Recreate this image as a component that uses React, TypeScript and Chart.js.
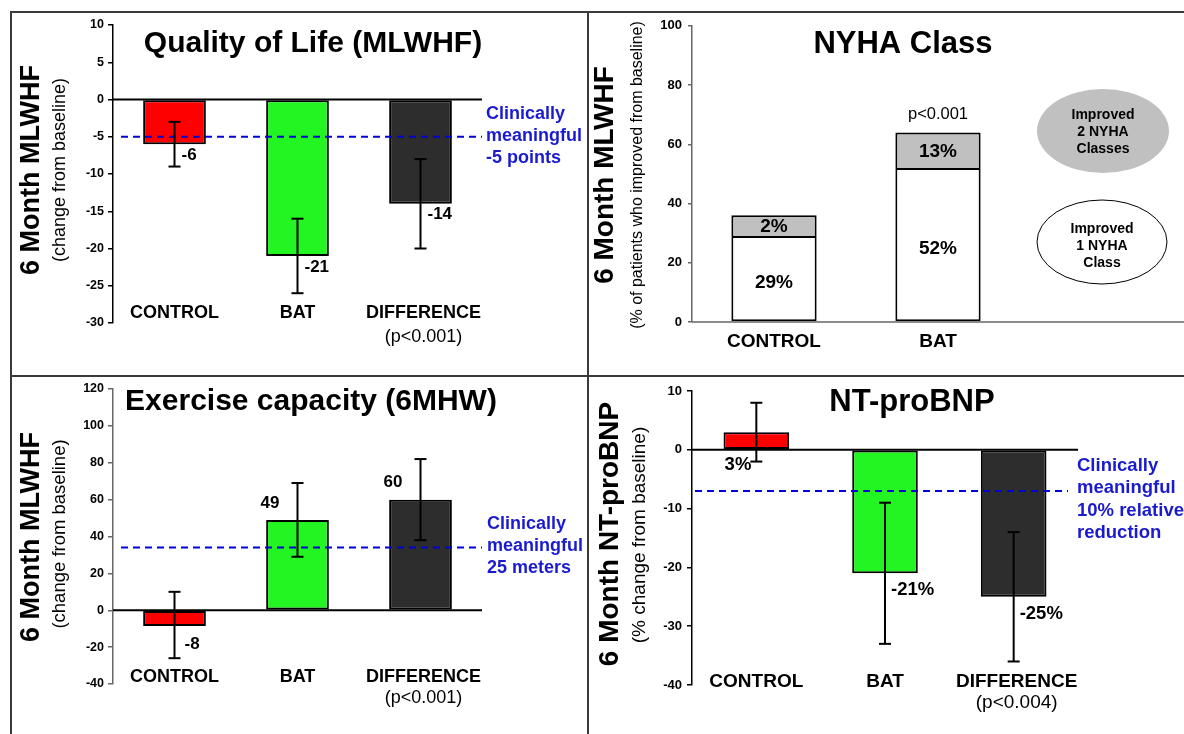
import React, { useEffect, useRef } from 'react';
import { Chart, registerables } from 'chart.js';

Chart.register(...registerables);

const FONT = 'Arial, "Liberation Sans", Helvetica, sans-serif';

// ---------- Quality of Life (MLWHF)
const qolCategories = ['CONTROL', 'BAT', 'DIFFERENCE'];
const qolValues = [-6, -21, -14];
const qolErrLow = [-9, -26, -20];
const qolErrHigh = [-3, -16, -8];
const qolLabels = ['-6', '-21', '-14'];
const qolThreshold = -5;
const qolTicks = { min: -30, max: 10, step: 5 };
const qolNote = ['Clinically', 'meaningful', '-5 points'];
const qolP = '(p<0.001)';

// ---------- NYHA Class
const nyhaCategories = ['CONTROL', 'BAT', ''];
const nyhaOneClass = [29, 52, null];
const nyhaTwoClass = [7, 12, null];
const nyhaOneLabels = ['29%', '52%'];
const nyhaTwoLabels = ['2%', '13%'];
const nyhaTicks = { min: 0, max: 100, step: 20 };
const nyhaP = 'p<0.001';
const nyhaLegendTwo = ['Improved', '2 NYHA', 'Classes'];
const nyhaLegendOne = ['Improved', '1 NYHA', 'Class'];

// ---------- Exercise capacity (6MHW)
const exCategories = ['CONTROL', 'BAT', 'DIFFERENCE'];
const exValues = [-8.5, 49, 60];
const exErrLow = [-26, 29, 38];
const exErrHigh = [10, 69, 82];
const exLabels = ['-8', '49', '60'];
const exThreshold = 34;
const exTicks = { min: -40, max: 120, step: 20 };
const exNote = ['Clinically', 'meaningful', '25 meters'];
const exP = '(p<0.001)';

// ---------- NT-proBNP
const bnpCategories = ['CONTROL', 'BAT', 'DIFFERENCE'];
const bnpValues = [3, -21, -25];
const bnpErrLow = [-2, -33, -36];
const bnpErrHigh = [8, -9, -14];
const bnpLabels = ['3%', '-21%', '-25%'];
const bnpThreshold = -7;
const bnpTicks = { min: -40, max: 10, step: 10 };
const bnpNote = ['Clinically', 'meaningful', '10% relative', 'reduction'];
const bnpP = '(p<0.004)';

const barColors = ['#ff0000', '#22f522', '#2d2d2d'];
const BLUE_TEXT = '#1a1ad0';
const BLUE_LINE = '#0000d8';

type Box = { x: number; y: number; w: number; h: number };
const BOX1: Box = { x: 11, y: 12, w: 577, h: 364 };
const BOX2: Box = { x: 589, y: 12, w: 595, h: 364 };
const BOX3: Box = { x: 11, y: 377, w: 577, h: 357 };
const BOX4: Box = { x: 589, y: 377, w: 595, h: 357 };

function text(ctx: any, s: string, x: number, y: number, size: number, bold: boolean, color = '#000', align = 'center') {
  ctx.save();
  ctx.font = `${bold ? 'bold ' : ''}${size}px ${FONT}`;
  ctx.fillStyle = color;
  ctx.textAlign = align;
  ctx.textBaseline = 'middle';
  ctx.fillText(s, x, y);
  ctx.restore();
}

function vtext(ctx: any, s: string, x: number, y: number, size: number, bold: boolean) {
  ctx.save();
  ctx.translate(x, y);
  ctx.rotate(-Math.PI / 2);
  ctx.font = `${bold ? 'bold ' : ''}${size}px ${FONT}`;
  ctx.fillStyle = '#000';
  ctx.textAlign = 'center';
  ctx.textBaseline = 'middle';
  ctx.fillText(s, 0, 0);
  ctx.restore();
}

function line(ctx: any, x1: number, y1: number, x2: number, y2: number, color: string, width: number, dash: number[] = []) {
  ctx.save();
  ctx.strokeStyle = color;
  ctx.lineWidth = width;
  ctx.setLineDash(dash);
  ctx.beginPath();
  ctx.moveTo(x1, y1);
  ctx.lineTo(x2, y2);
  ctx.stroke();
  ctx.restore();
}

function yAxis(t: { min: number; max: number; step: number }, axisColor: string, leftW: number, tickLen: number, pad: number, size: number) {
  return {
    min: t.min,
    max: t.max,
    ticks: {
      stepSize: t.step,
      color: '#000',
      padding: pad,
      font: { family: FONT, weight: 'bold', size },
    },
    grid: { drawOnChartArea: false, drawTicks: true, tickLength: tickLen, color: axisColor, lineWidth: 1.5 },
    border: { display: true, color: axisColor, width: 1.5 },
    afterFit: (s: any) => {
      s.width = leftW;
    },
  };
}

function buildBarPanel(p: any) {
  const b: Box = p.box;
  const decor = {
    id: 'decor',
    afterDatasetsDraw(chart: any) {
      const ctx = chart.ctx;
      const ys = chart.scales.y;
      const ca = chart.chartArea;
      const meta = chart.getDatasetMeta(0);
      ctx.save();
      ctx.translate(-b.x, -b.y);
      const Y = (v: number) => ys.getPixelForValue(v) + b.y;
      const L = ca.left + b.x;
      const R = ca.right + b.x;
      line(ctx, L, Y(0), R, Y(0), '#000', 2);
      line(ctx, p.dashFrom, Y(p.threshold), p.dashTo, Y(p.threshold), BLUE_LINE, 2, [7, 5]);
      meta.data.forEach((el: any, i: number) => {
        const x = el.x + b.x;
        const y1 = Y(p.errLow[i]);
        const y2 = Y(p.errHigh[i]);
        line(ctx, x, y1, x, y2, '#000', 2);
        line(ctx, x - 6, y1, x + 6, y1, '#000', 2);
        line(ctx, x - 6, y2, x + 6, y2, '#000', 2);
        const pos = p.place(p.values[i], x, Y);
        text(ctx, p.labels[i], pos.x, pos.y, p.valSize, true, '#000', pos.align);
        text(ctx, p.categories[i], x + (i === 2 ? 3 : 0), p.catY, p.catSize, true);
        if (i === 2) text(ctx, p.pText, x + 3, p.pY, p.catSize, false);
      });
      text(ctx, p.title, p.titleX, p.titleY, p.titleSize, true);
      vtext(ctx, p.yTitle, p.yTitleX, p.yTitleY, p.yTitleSize, true);
      vtext(ctx, p.ySub, p.ySubX, p.ySubY, p.ySubSize, false);
      p.note.forEach((s: string, k: number) => {
        text(ctx, s, p.noteX, p.noteY + k * p.noteGap, p.noteSize, true, BLUE_TEXT, 'left');
      });
      ctx.restore();
    },
  };
  return {
    type: 'bar',
    data: {
      labels: p.categories,
      datasets: [
        {
          data: p.values,
          backgroundColor: barColors,
          borderColor: '#000',
          borderWidth: 2,
          borderSkipped: false,
          barPercentage: p.barPct,
          categoryPercentage: 1,
        },
      ],
    },
    options: {
      responsive: false,
      animation: false,
      devicePixelRatio: 1,
      layout: { padding: { left: 0, right: p.padRight, top: p.padTop, bottom: p.padBottom } },
      plugins: { legend: { display: false }, tooltip: { enabled: false } },
      scales: {
        x: { display: false },
        y: yAxis(p.ticks, p.axisColor, p.leftW, p.tickLen, p.tickPad, p.tickSize),
      },
    },
    plugins: [decor],
  };
}

function buildNyha() {
  const b = BOX2;
  const decor = {
    id: 'decor',
    afterDatasetsDraw(chart: any) {
      const ctx = chart.ctx;
      const ys = chart.scales.y;
      const ca = chart.chartArea;
      const meta = chart.getDatasetMeta(0);
      ctx.save();
      ctx.translate(-b.x, -b.y);
      const Y = (v: number) => ys.getPixelForValue(v) + b.y;
      line(ctx, ca.left + b.x, Y(0), b.x + b.w, Y(0), '#666', 1.5);
      meta.data.forEach((el: any, i: number) => {
        if (!nyhaCategories[i]) return;
        const x = el.x + b.x;
        const one = nyhaOneClass[i] as number;
        const two = nyhaTwoClass[i] as number;
        text(ctx, nyhaOneLabels[i], x, (Y(0) + Y(one)) / 2 + 4, 19, true);
        text(ctx, nyhaTwoLabels[i], x, (Y(one) + Y(one + two)) / 2 + 1.5, 19, true);
        text(ctx, nyhaCategories[i], x, 342, 19, true);
        if (i === 1) text(ctx, nyhaP, x, Y(one + two) - 18, 16.5, false);
      });
      text(ctx, 'NYHA Class', 903, 44, 31, true);
      vtext(ctx, '6 Month MLWHF', 605, 175, 28, true);
      vtext(ctx, '(% of patients who improved from baseline)', 638, 175, 16, false);
      // legend ellipses
      ctx.save();
      ctx.fillStyle = '#c0c0c0';
      ctx.beginPath();
      ctx.ellipse(1103, 131, 66, 42, 0, 0, Math.PI * 2);
      ctx.fill();
      ctx.fillStyle = '#fff';
      ctx.strokeStyle = '#000';
      ctx.lineWidth = 1;
      ctx.beginPath();
      ctx.ellipse(1102, 242, 65, 42, 0, 0, Math.PI * 2);
      ctx.fill();
      ctx.stroke();
      ctx.restore();
      nyhaLegendTwo.forEach((s, k) => text(ctx, s, 1103, 115 + k * 17, 14, true));
      nyhaLegendOne.forEach((s, k) => text(ctx, s, 1102, 229 + k * 17, 14, true));
      ctx.restore();
    },
  };
  return {
    type: 'bar',
    data: {
      labels: nyhaCategories,
      datasets: [
        {
          data: nyhaOneClass,
          backgroundColor: '#ffffff',
          borderColor: '#000',
          borderWidth: 2,
          borderSkipped: false,
          barPercentage: 0.52,
          categoryPercentage: 1,
        },
        {
          data: nyhaTwoClass,
          backgroundColor: '#c0c0c0',
          borderColor: '#000',
          borderWidth: 2,
          borderSkipped: 'bottom',
          barPercentage: 0.52,
          categoryPercentage: 1,
        },
      ],
    },
    options: {
      responsive: false,
      animation: false,
      devicePixelRatio: 1,
      layout: { padding: { left: 0, right: 0, top: 13, bottom: 54 } },
      plugins: { legend: { display: false }, tooltip: { enabled: false } },
      scales: {
        x: { display: false, stacked: true },
        y: { ...yAxis(nyhaTicks, '#666', 103, 4, 6, 13), stacked: true },
      },
    },
    plugins: [decor],
  };
}

const panel1 = () =>
  buildBarPanel({
    box: BOX1,
    categories: qolCategories,
    values: qolValues,
    errLow: qolErrLow,
    errHigh: qolErrHigh,
    labels: qolLabels,
    threshold: qolThreshold,
    ticks: qolTicks,
    note: qolNote,
    pText: qolP,
    axisColor: '#000',
    leftW: 102,
    padRight: 106,
    padTop: 13,
    padBottom: 53,
    tickLen: 5,
    tickPad: 4,
    tickSize: 12.5,
    barPct: 0.51,
    dashFrom: 121,
    dashTo: 482,
    place: (v: number, x: number, Y: any) => ({ x: x + 7, y: Y(v) + 11, align: 'left' }),
    valSize: 17,
    catY: 313,
    pY: 337,
    catSize: 18,
    title: 'Quality of Life (MLWHF)',
    titleX: 313,
    titleY: 44,
    titleSize: 30,
    yTitle: '6 Month MLWHF',
    yTitleX: 32,
    yTitleY: 170,
    yTitleSize: 27,
    ySub: '(change from baseline)',
    ySubX: 60,
    ySubY: 170,
    ySubSize: 18,
    noteX: 486,
    noteY: 114,
    noteGap: 22,
    noteSize: 18,
  });

const panel3 = () =>
  buildBarPanel({
    box: BOX3,
    categories: exCategories,
    values: exValues,
    errLow: exErrLow,
    errHigh: exErrHigh,
    labels: exLabels,
    threshold: exThreshold,
    ticks: exTicks,
    note: exNote,
    pText: exP,
    axisColor: '#666',
    leftW: 102,
    padRight: 106,
    padTop: 12,
    padBottom: 50,
    tickLen: 5,
    tickPad: 4,
    tickSize: 12.5,
    barPct: 0.51,
    dashFrom: 121,
    dashTo: 482,
    place: (v: number, x: number, Y: any) =>
      v < 0 ? { x: x + 10, y: Y(v) + 18, align: 'left' } : { x: x - 18, y: Y(v) - 17, align: 'right' },
    valSize: 17,
    catY: 677,
    pY: 698,
    catSize: 18,
    title: 'Exercise capacity (6MHW)',
    titleX: 311,
    titleY: 402,
    titleSize: 30,
    yTitle: '6 Month MLWHF',
    yTitleX: 32,
    yTitleY: 537,
    yTitleSize: 27,
    ySub: '(change from baseline)',
    ySubX: 60,
    ySubY: 534,
    ySubSize: 18.5,
    noteX: 487,
    noteY: 524,
    noteGap: 22,
    noteSize: 18,
  });

const panel4 = () =>
  buildBarPanel({
    box: BOX4,
    categories: bnpCategories,
    values: bnpValues,
    errLow: bnpErrLow,
    errHigh: bnpErrHigh,
    labels: bnpLabels,
    threshold: bnpThreshold,
    ticks: bnpTicks,
    note: bnpNote,
    pText: bnpP,
    axisColor: '#000',
    leftW: 103,
    padRight: 106,
    padTop: 14,
    padBottom: 49,
    tickLen: 5,
    tickPad: 5,
    tickSize: 13,
    barPct: 0.51,
    dashFrom: 695,
    dashTo: 1068,
    place: (v: number, x: number, Y: any) =>
      v < 0 ? { x: x + 6, y: Y(v) + 17, align: 'left' } : { x: x - 5, y: Y(0) + 15, align: 'right' },
    valSize: 18.5,
    catY: 682,
    pY: 703,
    catSize: 19,
    title: 'NT-proBNP',
    titleX: 912,
    titleY: 402,
    titleSize: 31,
    yTitle: '6 Month NT-proBNP',
    yTitleX: 610,
    yTitleY: 534,
    yTitleSize: 28,
    ySub: '(% change from baseline)',
    ySubX: 640,
    ySubY: 535,
    ySubSize: 19,
    noteX: 1077,
    noteY: 466,
    noteGap: 22.4,
    noteSize: 18.5,
  });

function Panel({ box, make }: { box: Box; make: () => any }) {
  const ref = useRef<HTMLCanvasElement>(null);
  useEffect(() => {
    const chart = new Chart(ref.current as HTMLCanvasElement, make());
    return () => chart.destroy();
  }, []);
  return (
    <canvas
      ref={ref}
      width={box.w}
      height={box.h}
      style={{ position: 'absolute', left: box.x, top: box.y, width: box.w, height: box.h }}
    />
  );
}

const frame = (l: number, t: number, w: number, h: number) => (
  <div style={{ position: 'absolute', left: l, top: t, width: w, height: h, background: '#3a3a3a' }} />
);

export default function App() {
  return (
    <div style={{ position: 'fixed', left: 0, top: 0, width: 1184, height: 734, background: '#fff', overflow: 'hidden' }}>
      <Panel box={BOX1} make={panel1} />
      <Panel box={BOX2} make={buildNyha} />
      <Panel box={BOX3} make={panel3} />
      <Panel box={BOX4} make={panel4} />
      {frame(10, 11, 1174, 2)}
      {frame(10, 11, 2, 723)}
      {frame(587, 11, 2, 723)}
      {frame(10, 375, 1174, 2)}
    </div>
  );
}
